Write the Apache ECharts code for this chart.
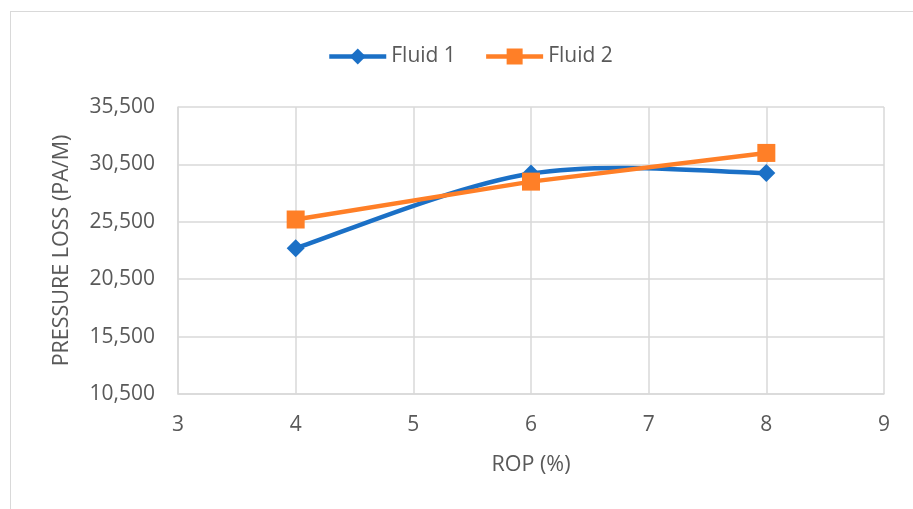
<!DOCTYPE html>
<html>
<head>
<meta charset="utf-8">
<script src="https://cdn.jsdelivr.net/npm/echarts@6/dist/echarts.min.js"></script>
<style>
html,body{margin:0;padding:0;background:#fff;}
#chart{width:913px;height:509px;position:relative;}
#frame{position:absolute;left:10px;top:11px;width:910px;height:510px;border-top:1.5px solid #d9d9d9;border-left:1.5px solid #d9d9d9;pointer-events:none;}
</style>
</head>
<body>
<div id="chart"></div>
<div id="frame"></div>
<script>
const seriesNames = ['Fluid 1', 'Fluid 2'];
const rop = [4, 6, 8];
const fluid1 = [23200, 29700, 29750];
const fluid2 = [25700, 29000, 31500];
const xTitle = 'ROP (%)';
const yTitle = 'PRESSURE LOSS (PA/M)';

const font = 'Open Sans';
const textColor = '#595959';
const gridColor = '#d9d9d9';
const blue = '#1B70C6';
const orange = '#FF7F27';

const pairs1 = rop.map((x, i) => [x, fluid1[i]]);
const pairs2 = rop.map((x, i) => [x, fluid2[i]]);

// Excel-like smoothed line (Catmull-Rom Bezier) through the data points, positioned by the axes
function smoothRender(params, api) {
  if (params.dataIndex !== 0) return null;
  const pts = pairs1.map(p => api.coord(p));
  let d = 'M' + pts[0][0] + ' ' + pts[0][1];
  for (let i = 0; i < pts.length - 1; i++) {
    const p0 = pts[Math.max(i - 1, 0)], p1 = pts[i], p2 = pts[i + 1], p3 = pts[Math.min(i + 2, pts.length - 1)];
    const c1 = [p1[0] + (p2[0] - p0[0]) / 6, p1[1] + (p2[1] - p0[1]) / 6];
    const c2 = [p2[0] - (p3[0] - p1[0]) / 6, p2[1] - (p3[1] - p1[1]) / 6];
    d += ' C' + c1[0] + ' ' + c1[1] + ' ' + c2[0] + ' ' + c2[1] + ' ' + p2[0] + ' ' + p2[1];
  }
  return {
    type: 'path',
    shape: { pathData: d },
    style: { fill: null, stroke: blue, lineWidth: 4.5, lineCap: 'round', lineJoin: 'round' }
  };
}

const chart = echarts.init(document.getElementById('chart'));
chart.setOption({
  animation: false,
  legend: {
    top: 41,
    left: 322,
    itemWidth: 57,
    itemHeight: 20,
    itemGap: 28,
    textStyle: { fontFamily: font, fontSize: 21, color: textColor },
    data: [
      { name: seriesNames[0], lineStyle: { width: 4.5, opacity: 1, color: blue } },
      { name: seriesNames[1], lineStyle: { width: 4.5, opacity: 1, color: orange } }
    ]
  },
  grid: { left: 178, right: 29, top: 107, bottom: 115 },
  xAxis: {
    type: 'value',
    min: 3, max: 9, interval: 1,
    name: xTitle,
    nameLocation: 'middle',
    nameGap: 60,
    nameTextStyle: { fontFamily: font, fontSize: 21.5, color: textColor },
    axisLine: { show: true, lineStyle: { color: gridColor, width: 1.5 } },
    axisTick: { show: false },
    axisLabel: { fontFamily: font, fontSize: 21, color: textColor, margin: 21 },
    splitLine: { show: true, lineStyle: { color: gridColor, width: 1.5 } }
  },
  yAxis: {
    type: 'value',
    min: 10500, max: 35500, interval: 5000,
    name: yTitle,
    nameLocation: 'middle',
    nameGap: 105,
    nameTextStyle: { fontFamily: font, fontSize: 21.5, color: textColor },
    axisLine: { show: true, lineStyle: { color: gridColor, width: 1.5 } },
    axisTick: { show: false },
    axisLabel: {
      fontFamily: font, fontSize: 21, color: textColor, margin: 23,
      formatter: v => v.toLocaleString('en-US')
    },
    splitLine: { show: true, lineStyle: { color: gridColor, width: 1.5 } }
  },
  series: [
    {
      name: 'Fluid 1 curve',
      type: 'custom',
      renderItem: smoothRender,
      data: pairs1,
      silent: true,
      z: 1
    },
    {
      name: seriesNames[0],
      type: 'line',
      data: pairs1,
      symbol: 'diamond',
      symbolSize: 18,
      lineStyle: { width: 4.5, opacity: 0, color: blue },
      itemStyle: { color: blue },
      z: 2
    },
    {
      name: seriesNames[1],
      type: 'line',
      data: pairs2,
      symbol: 'rect',
      symbolSize: 18,
      lineStyle: { width: 4.5, color: orange },
      itemStyle: { color: orange },
      z: 3
    }
  ]
});
</script>
</body>
</html>
